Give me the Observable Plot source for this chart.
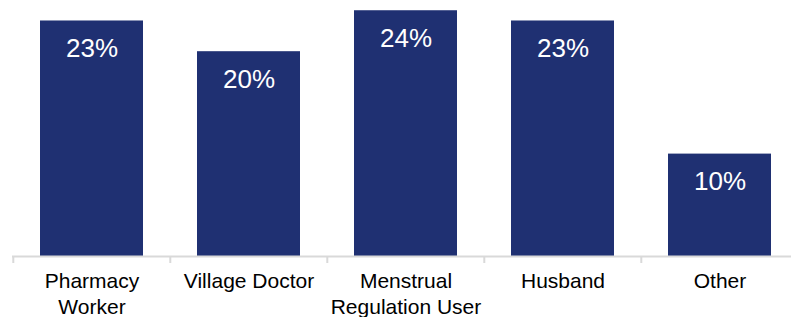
<!DOCTYPE html>
<html>
<head>
<meta charset="utf-8">
<script src="https://cdn.jsdelivr.net/npm/d3@7"></script>
<script src="https://cdn.jsdelivr.net/npm/@observablehq/plot@0.6"></script>
<style>
  html, body { margin: 0; padding: 0; background: #fff; overflow: hidden; }
  #chart svg { display: block; }
</style>
</head>
<body>
<div id="chart"></div>
<script>
const categories = ["Pharmacy Worker", "Village Doctor", "Menstrual Regulation User", "Husband", "Other"];
const tickLabels = ["Pharmacy\nWorker", "Village Doctor", "Menstrual\nRegulation User", "Husband", "Other"];
const values = [23, 20, 24, 23, 10];

const data = categories.map((c, i) => ({category: c, value: values[i], label: tickLabels[i]}));
const labelOf = new Map(data.map(d => [d.category, d.label]));

const W = 791, H = 317;
const mL = 12, mR = -8;
const bandW = (W - mL - mR) / categories.length;

const chart = Plot.plot({
  width: W,
  height: H,
  marginTop: 0,
  marginBottom: 61,
  marginLeft: mL,
  marginRight: mR,
  style: {fontFamily: "'Liberation Sans', Arial, sans-serif", background: "#fff", color: "#000", overflow: "visible"},
  x: {domain: categories, paddingInner: 0.345, paddingOuter: 0.1725, axis: null, label: null},
  y: {domain: [0, 25], axis: null},
  marks: [
    Plot.barY(data, {x: "category", y: "value", fill: "#1f3072"}),
    Plot.ruleY([0], {stroke: "#d9d9d9", strokeWidth: 2}),
    Plot.axisX({domain: categories, tickSize: 7, dx: -bandW / 2, stroke: "#d9d9d9", strokeWidth: 2, text: null, label: null}),
    Plot.axisX({domain: categories, tickSize: 0, tickPadding: 14, fontSize: 21, lineHeight: 1.2,
      fill: "#000", label: null, tickFormat: d => labelOf.get(d)}),
    Plot.text(data, {x: "category", y: "value", text: d => d.value + "%", fill: "#fff",
      fontSize: 26, dy: 28})
  ]
});
document.getElementById("chart").appendChild(chart);
</script>
</body>
</html>
